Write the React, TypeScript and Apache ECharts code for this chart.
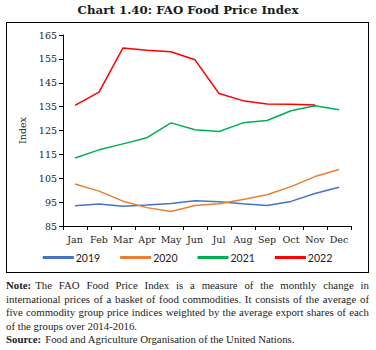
import React, { useEffect, useRef } from "react";
import * as echarts from "echarts";

const months = ["Jan", "Feb", "Mar", "Apr", "May", "Jun", "Jul", "Aug", "Sep", "Oct", "Nov", "Dec"];
const s2019 = [93.5, 94.2, 93.3, 93.8, 94.4, 95.6, 95.2, 94.3, 93.6, 95.3, 98.6, 101.2];
const s2020 = [102.6, 99.6, 95.4, 92.7, 91.1, 93.6, 94.3, 96.1, 98.1, 101.5, 105.7, 108.7];
const s2021 = [113.5, 116.9, 119.4, 122.0, 128.2, 125.3, 124.6, 128.2, 129.2, 133.3, 135.4, 133.7];
const s2022 = [135.5, 141.1, 159.6, 158.6, 158.0, 154.6, 140.5, 137.5, 136.1, 136.0, 135.7, null];
const seriesNames = ["2019", "2020", "2021", "2022"];
const seriesColors = ["#4472C4", "#ED7D31", "#00B050", "#FF0000"];
const yMin = 85;
const yMax = 165;
const yStep = 10;

const noteLines = [
  "The FAO Food Price Index is a measure of the monthly change in",
  "international prices of a basket of food commodities. It consists of the average of",
  "five commodity group price indices weighted by the average export shares of each",
  "of the groups over 2014-2016.",
];

const FONT = "'DejaVu Serif', 'Liberation Serif', serif";
const NOTEFONT = "'Liberation Serif', 'DejaVu Serif', serif";
const SANS = "Lato, 'Liberation Sans', sans-serif";

function Chart() {
  const ref = useRef<HTMLDivElement>(null);
  useEffect(() => {
    if (!ref.current) return;
    const chart = echarts.init(ref.current, undefined, { renderer: "svg" });
    const data = [s2019, s2020, s2021, s2022];
    chart.setOption({
      animation: false,
      textStyle: { fontFamily: FONT },
      grid: { left: 56, right: 17, top: 12, bottom: 46 },
      legend: {
        bottom: 4,
        left: "center",
        itemWidth: 31,
        itemHeight: 3,
        itemGap: 20,
        icon: "rect",
        textStyle: { fontFamily: SANS, fontSize: 10.5, color: "#222", padding: [0, 0, 0, -3] },
        data: seriesNames,
      },
      xAxis: {
        type: "category",
        data: months,
        boundaryGap: true,
        axisLine: { lineStyle: { color: "#000", width: 1 } },
        axisTick: { show: true, length: 4, lineStyle: { color: "#000" } },
        axisLabel: { interval: 0, fontFamily: FONT, fontSize: 9.5, color: "#222", margin: 8 },
      },
      yAxis: {
        type: "value",
        min: yMin,
        max: yMax,
        interval: yStep,
        name: "Index",
        nameLocation: "middle",
        nameGap: 21,
        nameRotate: 90,
        nameTextStyle: { fontFamily: FONT, fontSize: 9.5, color: "#222" },
        axisLine: { show: true, lineStyle: { color: "#000", width: 1 } },
        axisTick: { show: true, length: 4, lineStyle: { color: "#000" } },
        splitLine: { show: false },
        axisLabel: { fontFamily: FONT, fontSize: 9.5, color: "#222", margin: 6 },
      },
      series: seriesNames.map((n, i) => ({
        name: n,
        type: "line",
        data: data[i],
        symbol: "none",
        color: seriesColors[i],
        lineStyle: { width: 1.5, color: seriesColors[i] },
      })),
    });
    return () => chart.dispose();
  }, []);
  return <div ref={ref} style={{ width: 361, height: 249 }} />;
}

export default function App() {
  return (
    <div
      style={{
        position: "fixed",
        left: 0,
        top: 0,
        width: 376,
        height: 350,
        background: "#fff",
        fontFamily: FONT,
        color: "#222",
      }}
    >
      <div
        style={{
          position: "absolute",
          top: 3,
          left: 0,
          width: 376,
          textAlign: "center",
          fontWeight: "bold",
          fontSize: 11.8,
          color: "#1a1a1a",
        }}
      >
        Chart 1.40: FAO Food Price Index
      </div>
      <div
        style={{
          position: "absolute",
          left: 6,
          top: 22,
          width: 361,
          height: 249,
          border: "1px solid #000",
        }}
      >
        <Chart />
      </div>
      <div
        style={{
          position: "absolute",
          left: 6,
          top: 279,
          width: 363,
          fontFamily: NOTEFONT,
          fontSize: 10.8,
          lineHeight: "13.6px",
        }}
      >
        {noteLines.map((ln, i) => (
          <div
            key={i}
            style={{
              whiteSpace: "nowrap",
              textAlign: i < noteLines.length - 1 ? "justify" : "left",
              textAlignLast: i < noteLines.length - 1 ? "justify" : "left",
            }}
          >
            {i === 0 ? <b style={{ marginRight: 4 }}>Note:</b> : null}
            {ln}
          </div>
        ))}
        <div style={{ whiteSpace: "nowrap" }}>
          <b style={{ marginRight: 4 }}>Source:</b>Food and Agriculture Organisation of the United Nations.
        </div>
      </div>
    </div>
  );
}
